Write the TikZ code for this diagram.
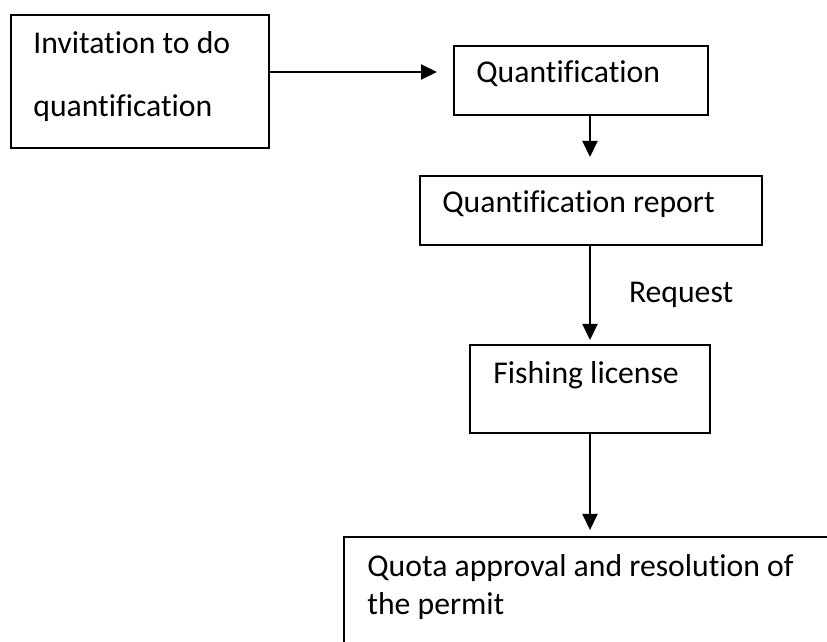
\documentclass[tikz,border=0pt]{standalone}
\usepackage{fontspec}
\setmainfont[Ligatures=NoCommon]{Carlito}
\usetikzlibrary{positioning,arrows.meta,calc}

\tikzset{
  flowbox/.style={draw, line width=1pt, anchor=north west, inner sep=0pt},
  boxtext/.style={anchor=base west, inner sep=0pt, align=left,
    font=\fontsize{15.85}{19}\selectfont},
  flowarrow/.style={line width=1pt, -{Triangle[length=8pt,width=7.5pt]}},
  lbl/.style={inner sep=0pt, font=\fontsize{15.85}{19}\selectfont},
}

\begin{document}
\begin{tikzpicture}[x=0.5pt, y=-0.5pt]
  \useasboundingbox (0,0) rectangle (827,642);
  \clip (0,0) rectangle (827,642);
  % boxes
  \node[flowbox, minimum width=129pt, minimum height=66.5pt] (invite) at (10,14) {};
  \node[flowbox, minimum width=127pt, minimum height=34.5pt] (quant) at (453,45) {};
  \node[flowbox, minimum width=171pt, minimum height=34.5pt] (report) at (419,175) {};
  \node[flowbox, minimum width=120pt, minimum height=44pt] (license) at (469,344) {};
  \node[flowbox, minimum width=260pt, minimum height=70pt] (quota) at (343,536) {};
  % texts (base = baseline of the last line)
  \node[boxtext, font=\fontsize{15.85}{31.5}\selectfont] (invitetxt)
    at ($(invite.north west)+(23,103)$) {Invitation to do\\quantification};
  \node[boxtext] (quanttxt) at ($(quant.north west)+(23,38)$) {Quantification};
  \node[boxtext] (reporttxt) at ($(report.north west)+(23,38)$) {Quantification report};
  \node[boxtext] (licensetxt) at ($(license.north west)+(24,40)$) {Fishing license};
  \node[boxtext] (quotatxt) at ($(quota.north west)+(24,79)$)
    {Quota approval and resolution of\\the permit};
  % arrows
  \draw[flowarrow] ($(invite.east)+(0,-9.5)$) -- ($(quant.west)+(-16,-8.5)$);
  \draw[flowarrow, shorten >=9pt] (quant.south -| license.north) -- (report.north -| license.north);
  \draw[flowarrow, shorten >=2pt] (report.south -| license.north)
    -- node[lbl, right=19pt] (req) {Request} (license.north);
  \draw[flowarrow, shorten >=3pt] (license.south) -- (quota.north -| license.south);
\end{tikzpicture}
\end{document}
